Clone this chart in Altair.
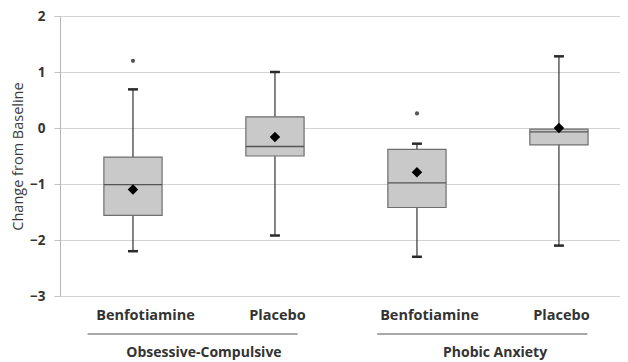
import altair as alt
import pandas as pd

# ---- data ----
groups = ["Obsessive-Compulsive", "Obsessive-Compulsive", "Phobic Anxiety", "Phobic Anxiety"]
treatments = ["Benfotiamine", "Placebo", "Benfotiamine", "Placebo"]
positions = [0, 1, 2, 3]
whisker_low = [-2.20, -1.92, -2.30, -2.10]
q1 = [-1.56, -0.50, -1.42, -0.30]
median = [-1.01, -0.33, -0.98, -0.07]
q3 = [-0.52, 0.20, -0.38, -0.02]
whisker_high = [0.69, 1.00, -0.28, 1.28]
means = [-1.10, -0.16, -0.79, 0.00]
outlier_pos = [0, 2]
outlier_val = [1.20, 0.26]
group_names = ["Obsessive-Compulsive", "Phobic Anxiety"]

FONT = "Open Sans"
HALF_BOX = 0.205
HALF_CAP = 0.035

df = pd.DataFrame({
    "group": groups, "treatment": treatments, "pos": positions,
    "low": whisker_low, "q1": q1, "median": median, "q3": q3,
    "high": whisker_high, "mean": means,
})
df["bl"] = df["pos"] - HALF_BOX
df["br"] = df["pos"] + HALF_BOX
df["cl"] = df["pos"] - HALF_CAP
df["cr"] = df["pos"] + HALF_CAP

out_df = pd.DataFrame({"pos": outlier_pos, "val": outlier_val})

gdf = pd.DataFrame({"name": group_names})
gdf["center"] = [0.5, 2.55]
gdf["left"] = [-0.32, 1.72]
gdf["right"] = [1.16, 3.20]
gdf["ytext"] = -4.02
gdf["yline"] = -3.68

xscale = alt.Scale(domain=[-0.514, 3.43], nice=False, zero=False)
yscale = alt.Scale(domain=[-3, 2], nice=False, zero=False)

label_expr = "['Benfotiamine','Placebo','Benfotiamine','Placebo'][datum.value]"

x_axis = alt.Axis(
    values=positions, labelExpr=label_expr, grid=False, domain=False, ticks=False,
    title=None, labelFont=FONT, labelFontWeight="bold", labelFontSize=14.5,
    labelColor="#333333", labelPadding=12,
    labelOffset={"condition": {"test": "datum.value == 0 || datum.value == 2", "value": 12}, "value": 2},
)
y_axis = alt.Axis(
    values=[-3, -2, -1, 0, 1, 2], format="d", grid=True, gridColor="#d3d3d3",
    domainColor="#b5b5b5", tickColor="#c5c5c5", tickSize=6,
    labelFont=FONT, labelFontWeight="bold", labelFontSize=13.5, labelColor="#333333",
    labelPadding=9, title="Change from Baseline", titleFont=FONT,
    titleFontSize=14.5, titleFontWeight="normal", titleColor="#3a3a3a", titlePadding=4,
)

base = alt.Chart(df)

whisker = base.mark_rule(color="#333333", strokeWidth=1.2).encode(
    x=alt.X("pos:Q", scale=xscale, axis=x_axis),
    y=alt.Y("low:Q", scale=yscale, axis=y_axis),
    y2="high:Q",
)
cap_low = base.mark_rule(color="#2a2a2a", strokeWidth=2.5).encode(
    x=alt.X("cl:Q", scale=xscale), x2="cr:Q", y=alt.Y("low:Q", scale=yscale))
cap_high = base.mark_rule(color="#2a2a2a", strokeWidth=2.5).encode(
    x=alt.X("cl:Q", scale=xscale), x2="cr:Q", y=alt.Y("high:Q", scale=yscale))
box = base.mark_rect(fill="#c9c9c9", stroke="#6e6e6e", strokeWidth=1.2).encode(
    x=alt.X("bl:Q", scale=xscale), x2="br:Q",
    y=alt.Y("q1:Q", scale=yscale), y2="q3:Q",
)
med = base.mark_rule(color="#555555", strokeWidth=1.3).encode(
    x=alt.X("bl:Q", scale=xscale), x2="br:Q", y=alt.Y("median:Q", scale=yscale))
mean_pt = base.mark_point(shape="diamond", filled=True, color="black", size=110, opacity=1).encode(
    x=alt.X("pos:Q", scale=xscale), y=alt.Y("mean:Q", scale=yscale))
outl = alt.Chart(out_df).mark_point(shape="circle", filled=True, color="#555555", size=18, opacity=1).encode(
    x=alt.X("pos:Q", scale=xscale), y=alt.Y("val:Q", scale=yscale))

gline = alt.Chart(gdf).mark_rule(color="#8a8a8a", strokeWidth=1.5).encode(
    x=alt.X("left:Q", scale=xscale), x2="right:Q", y=alt.Y("yline:Q", scale=yscale))
gtext = alt.Chart(gdf).mark_text(font=FONT, fontWeight="bold", fontSize=14, color="#333333",
                                 baseline="middle", align="center").encode(
    x=alt.X("center:Q", scale=xscale), y=alt.Y("ytext:Q", scale=yscale), text="name:N")

chart = alt.layer(whisker, cap_low, cap_high, box, med, mean_pt, outl, gline, gtext).properties(
    width=560, height=280,
    padding={"left": 52, "top": 8, "right": 0, "bottom": 66},
    autosize="none",
).configure_view(stroke=None).configure(background="white")

chart.save("out.html", embed_options={"renderer": "svg", "actions": False})
